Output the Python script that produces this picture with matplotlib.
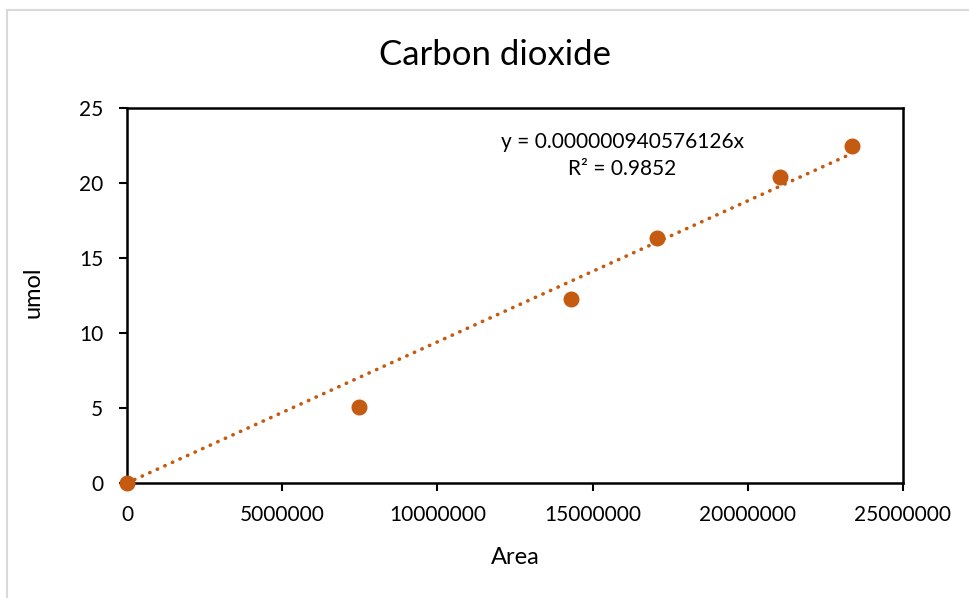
import matplotlib
matplotlib.use("Agg")
import matplotlib.pyplot as plt
import numpy as np
from matplotlib.lines import Line2D

plt.rcParams['font.family'] = ['Lato', 'DejaVu Sans']

# Data
area = [0, 7470000, 14300000, 17070000, 21040000, 23360000]
umol = [0.0, 5.07, 12.27, 16.33, 20.42, 22.47]
slope = 0.000000940576126
r2 = 0.9852
x_ticks = [0, 5000000, 10000000, 15000000, 20000000, 25000000]
y_ticks = [0, 5, 10, 15, 20, 25]

color = '#C55A11'

W, H = 970, 598
fig = plt.figure(figsize=(W / 100, H / 100), dpi=100)
ax = fig.add_axes([127 / W, 1 - 483 / H, (903 - 127) / W, (483 - 108) / H])

# outer gray chart border
fig.add_artist(Line2D([7 / W, 7 / W], [0, 1 - 10 / H], color='#d9d9d9', lw=1.5, transform=fig.transFigure))
fig.add_artist(Line2D([7 / W, 1], [1 - 10 / H, 1 - 10 / H], color='#d9d9d9', lw=1.5, transform=fig.transFigure))

xs = np.array([0, max(area)])
ax.plot(xs, slope * xs, linestyle=(0, (0.1, 2.2)), dash_capstyle='round', color=color, lw=2.6, zorder=2)
ax.plot(area, umol, 'o', color=color, markersize=10.5, zorder=3, clip_on=False)

ax.set_xlim(0, 25000000)
ax.set_ylim(0, 25)
ax.set_xticks(x_ticks)
ax.set_yticks(y_ticks)
ax.set_xticklabels([str(v) for v in x_ticks])
ax.set_yticklabels([str(v) for v in y_ticks])
ax.tick_params(direction='out', length=6, width=1.5, labelsize=15, colors='black')
ax.tick_params(axis='x', pad=10)
ax.tick_params(axis='y', pad=11)
for s in ax.spines.values():
    s.set_linewidth(1.8)
    s.set_color('black')

fig.text(495 / W, 1 - 55 / H, 'Carbon dioxide', fontsize=25, ha='center', va='center')
fig.text(515 / W, 1 - 557 / H, 'Area', fontsize=17, ha='center', va='center')
fig.text(33 / W, 1 - 292 / H, 'umol', fontsize=17, ha='center', va='center', rotation=90)

ax.text(0.638, 0.909, 'y = {:.15f}x'.format(slope), transform=ax.transAxes,
        ha='center', va='center', fontsize=15)
ax.text(0.638, 0.837, 'R² = {:.4f}'.format(r2), transform=ax.transAxes,
        ha='center', va='center', fontsize=15)

fig.savefig('out.png', dpi=100)
